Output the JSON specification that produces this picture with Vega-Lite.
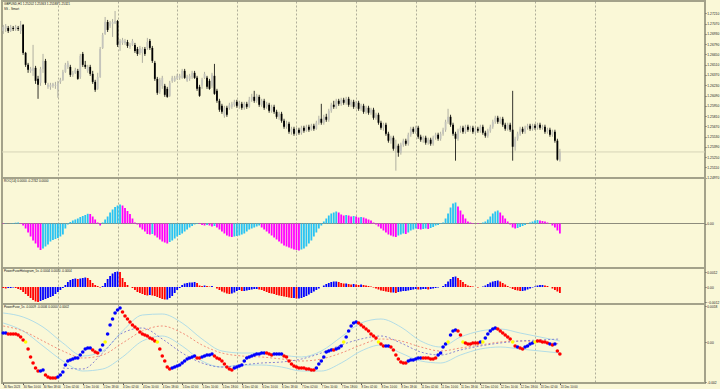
{
"$schema": "https://vega.github.io/schema/vega-lite/v6.json",
"padding": 0,
"background": "#faf8d7",
"spacing": 0,
"bounds": "flush",
"config": {
 "view": {"stroke": "#a3a28a", "strokeWidth": 2},
 "axis": {"domain": false, "title": null, "labelFont": "Liberation Sans", "labelFontSize": 3.3, "labelColor": "#222222", "tickColor": "#555555", "tickSize": 1, "labelPadding": 0.8, "labelOverlap": false, "labelBound": false, "labelFlush": false, "grid": false},
 "title": {"font": "Liberation Sans", "fontSize": 3.1, "fontWeight": "normal", "color": "#111111", "anchor": "start", "frame": "group", "subtitleFont": "Liberation Sans", "subtitleFontSize": 3.1, "subtitleColor": "#111111", "subtitlePadding": 1.2}
},
"datasets": {
"bars": [
{"i":0,"o":1.2697,"h":1.27052,"l":1.26929,"c":1.27024,"r":-0.003,"hv":-0.00008,"v":0.00045,"s":"b"},
{"i":1,"o":1.26997,"h":1.27065,"l":1.26956,"c":1.27038,"r":-0.002,"hv":-0.00012,"v":0.00045,"s":"b"},
{"i":2,"o":1.27011,"h":1.27038,"l":1.26943,"c":1.2697,"r":0,"hv":-0.00008,"v":0.0004,"s":"r"},
{"i":3,"o":1.2697,"h":1.27052,"l":1.26956,"c":1.27024,"r":0.003,"hv":-0.00008,"v":0.0004,"s":"r"},
{"i":4,"o":1.27011,"h":1.27038,"l":1.2697,"c":1.26997,"r":0.005,"hv":-0.00004,"v":0.0004,"s":"r"},
{"i":5,"o":1.26997,"h":1.27052,"l":1.2697,"c":1.27024,"r":0.008,"hv":-0.00008,"v":0.0004,"s":"r"},
{"i":6,"o":1.27011,"h":1.27038,"l":1.2697,"c":1.26997,"r":0.01,"hv":-0.00016,"v":0.00035,"s":"r"},
{"i":7,"o":1.2697,"h":1.27106,"l":1.26929,"c":1.27052,"r":0.005,"hv":-0.00024,"v":0.00025,"s":"r"},
{"i":8,"o":1.27052,"h":1.27065,"l":1.26644,"c":1.26671,"r":-0.02,"hv":-0.0004,"v":0.0001,"s":"r"},
{"i":9,"o":1.26671,"h":1.26684,"l":1.2648,"c":1.26508,"r":-0.05,"hv":-0.00056,"v":0,"s":"y"},
{"i":10,"o":1.26508,"h":1.26535,"l":1.26399,"c":1.2644,"r":-0.09,"hv":-0.00072,"v":-0.00035,"s":"r"},
{"i":11,"o":1.26426,"h":1.2648,"l":1.26399,"c":1.26453,"r":-0.13,"hv":-0.00088,"v":-0.00075,"s":"r"},
{"i":12,"o":1.26426,"h":1.2678,"l":1.26358,"c":1.26467,"r":-0.17,"hv":-0.00104,"v":-0.00105,"s":"r"},
{"i":13,"o":1.26467,"h":1.26494,"l":1.26249,"c":1.2629,"r":-0.2,"hv":-0.00116,"v":-0.0013,"s":"r"},
{"i":14,"o":1.26317,"h":1.26358,"l":1.26045,"c":1.26236,"r":-0.24,"hv":-0.0012,"v":-0.00145,"s":"r"},
{"i":15,"o":1.26263,"h":1.2648,"l":1.26222,"c":1.26453,"r":-0.265,"hv":-0.00112,"v":-0.00145,"s":"b"},
{"i":16,"o":1.26453,"h":1.26657,"l":1.26399,"c":1.26562,"r":-0.25,"hv":-0.00104,"v":-0.0014,"s":"b"},
{"i":17,"o":1.26562,"h":1.26589,"l":1.26236,"c":1.26263,"r":-0.23,"hv":-0.00096,"v":-0.00165,"s":"r"},
{"i":18,"o":1.26208,"h":1.26263,"l":1.26181,"c":1.26236,"r":-0.21,"hv":-0.00088,"v":-0.00175,"s":"r"},
{"i":19,"o":1.26208,"h":1.26263,"l":1.26168,"c":1.26236,"r":-0.18,"hv":-0.0008,"v":-0.0018,"s":"r"},
{"i":20,"o":1.26222,"h":1.26263,"l":1.26195,"c":1.26249,"r":-0.165,"hv":-0.00072,"v":-0.0018,"s":"r"},
{"i":21,"o":1.26222,"h":1.26276,"l":1.26181,"c":1.26236,"r":-0.155,"hv":-0.00056,"v":-0.0018,"s":"r"},
{"i":22,"o":1.26168,"h":1.2629,"l":1.26059,"c":1.26263,"r":-0.145,"hv":-0.0004,"v":-0.00175,"s":"b"},
{"i":23,"o":1.26276,"h":1.26331,"l":1.26249,"c":1.26304,"r":-0.13,"hv":-0.00024,"v":-0.00165,"s":"b"},
{"i":24,"o":1.26304,"h":1.2644,"l":1.2629,"c":1.26412,"r":-0.11,"hv":-0.00008,"v":-0.0015,"s":"b"},
{"i":25,"o":1.26412,"h":1.26535,"l":1.26399,"c":1.26508,"r":-0.05,"hv":0.00016,"v":-0.00115,"s":"b"},
{"i":26,"o":1.2648,"h":1.26562,"l":1.26453,"c":1.26535,"r":-0.01,"hv":0.0004,"v":-0.00095,"s":"b"},
{"i":27,"o":1.2648,"h":1.26508,"l":1.26344,"c":1.26372,"r":0.015,"hv":0.00056,"v":-0.0009,"s":"b"},
{"i":28,"o":1.26372,"h":1.26426,"l":1.26344,"c":1.26399,"r":0.03,"hv":0.00064,"v":-0.00085,"s":"b"},
{"i":29,"o":1.26399,"h":1.26467,"l":1.26385,"c":1.2644,"r":0.04,"hv":0.00068,"v":-0.0008,"s":"b"},
{"i":30,"o":1.26426,"h":1.26453,"l":1.26304,"c":1.26317,"r":0.05,"hv":0.00064,"v":-0.0008,"s":"b"},
{"i":31,"o":1.26344,"h":1.26657,"l":1.26317,"c":1.2663,"r":0.065,"hv":0.00068,"v":-0.00065,"s":"b"},
{"i":32,"o":1.26657,"h":1.26684,"l":1.2648,"c":1.26508,"r":0.075,"hv":0.00072,"v":-0.0005,"s":"b"},
{"i":33,"o":1.26508,"h":1.26562,"l":1.26453,"c":1.2648,"r":0.085,"hv":0.00076,"v":-0.00035,"s":"b"},
{"i":34,"o":1.26426,"h":1.26508,"l":1.26399,"c":1.2648,"r":0.097,"hv":0.00072,"v":-0.0003,"s":"b"},
{"i":35,"o":1.2648,"h":1.26508,"l":1.26358,"c":1.26385,"r":0.095,"hv":0.00056,"v":-0.0003,"s":"b"},
{"i":36,"o":1.26385,"h":1.26426,"l":1.26249,"c":1.26276,"r":0.07,"hv":0.00032,"v":-0.0004,"s":"r"},
{"i":37,"o":1.26276,"h":1.26304,"l":1.2614,"c":1.26168,"r":0.04,"hv":0.00016,"v":-0.0005,"s":"r"},
{"i":38,"o":1.26181,"h":1.26399,"l":1.26168,"c":1.26344,"r":0.01,"hv":0.00008,"v":-0.00055,"s":"r"},
{"i":39,"o":1.26344,"h":1.26752,"l":1.26331,"c":1.26725,"r":-0.02,"hv":-0.00004,"v":-0.0004,"s":"b"},
{"i":40,"o":1.26739,"h":1.26943,"l":1.26725,"c":1.26916,"r":0.01,"hv":0.00008,"v":-0.00015,"s":"b"},
{"i":41,"o":1.26929,"h":1.2716,"l":1.26916,"c":1.27092,"r":0.04,"hv":0.00032,"v":0,"s":"y"},
{"i":42,"o":1.27092,"h":1.2712,"l":1.26956,"c":1.26984,"r":0.07,"hv":0.00064,"v":0.0004,"s":"b"},
{"i":43,"o":1.27038,"h":1.27106,"l":1.27011,"c":1.27079,"r":0.11,"hv":0.00088,"v":0.00085,"s":"b"},
{"i":44,"o":1.27065,"h":1.27133,"l":1.26888,"c":1.27092,"r":0.14,"hv":0.00108,"v":0.00115,"s":"b"},
{"i":45,"o":1.27079,"h":1.27242,"l":1.27065,"c":1.27106,"r":0.165,"hv":0.0012,"v":0.00145,"s":"b"},
{"i":46,"o":1.27106,"h":1.2712,"l":1.26752,"c":1.2678,"r":0.18,"hv":0.00124,"v":0.0016,"s":"b"},
{"i":47,"o":1.2678,"h":1.26861,"l":1.26698,"c":1.26834,"r":0.19,"hv":0.0012,"v":0.0017,"s":"b"},
{"i":48,"o":1.26807,"h":1.26875,"l":1.2678,"c":1.26848,"r":0.18,"hv":0.00072,"v":0.0015,"s":"r"},
{"i":49,"o":1.26807,"h":1.26861,"l":1.2678,"c":1.26834,"r":0.155,"hv":0.0004,"v":0.0013,"s":"r"},
{"i":50,"o":1.2682,"h":1.26848,"l":1.26739,"c":1.26766,"r":0.125,"hv":0.00016,"v":0.00115,"s":"r"},
{"i":51,"o":1.26752,"h":1.26807,"l":1.26725,"c":1.2678,"r":0.095,"hv":0,"v":0.001,"s":"r"},
{"i":52,"o":1.2678,"h":1.26861,"l":1.26766,"c":1.26834,"r":0.05,"hv":-0.00008,"v":0.00085,"s":"r"},
{"i":53,"o":1.2678,"h":1.26807,"l":1.26671,"c":1.26698,"r":0.01,"hv":-0.00024,"v":0.00075,"s":"r"},
{"i":54,"o":1.26725,"h":1.26752,"l":1.2663,"c":1.26657,"r":-0.01,"hv":-0.0004,"v":0.00065,"s":"r"},
{"i":55,"o":1.26671,"h":1.26766,"l":1.26644,"c":1.26739,"r":-0.04,"hv":-0.00048,"v":0.0005,"s":"r"},
{"i":56,"o":1.26671,"h":1.26752,"l":1.26535,"c":1.26725,"r":-0.06,"hv":-0.00056,"v":0.0004,"s":"r"},
{"i":57,"o":1.26725,"h":1.26752,"l":1.2663,"c":1.26657,"r":-0.08,"hv":-0.00064,"v":0.00035,"s":"r"},
{"i":58,"o":1.26739,"h":1.26875,"l":1.26712,"c":1.2682,"r":-0.105,"hv":-0.00068,"v":0.0003,"s":"r"},
{"i":59,"o":1.26834,"h":1.26861,"l":1.26712,"c":1.26739,"r":-0.11,"hv":-0.00064,"v":0.0002,"s":"r"},
{"i":60,"o":1.26739,"h":1.26766,"l":1.26535,"c":1.26562,"r":-0.105,"hv":-0.00068,"v":0.00015,"s":"r"},
{"i":61,"o":1.26535,"h":1.26562,"l":1.2629,"c":1.26317,"r":-0.12,"hv":-0.00072,"v":0.00005,"s":"r"},
{"i":62,"o":1.26317,"h":1.26344,"l":1.261,"c":1.26127,"r":-0.14,"hv":-0.0008,"v":0,"s":"y"},
{"i":63,"o":1.2614,"h":1.26331,"l":1.26113,"c":1.26304,"r":-0.16,"hv":-0.00088,"v":-0.00035,"s":"r"},
{"i":64,"o":1.26222,"h":1.26358,"l":1.26181,"c":1.26331,"r":-0.18,"hv":-0.00096,"v":-0.0007,"s":"r"},
{"i":65,"o":1.26222,"h":1.26249,"l":1.26072,"c":1.261,"r":-0.19,"hv":-0.001,"v":-0.00095,"s":"r"},
{"i":66,"o":1.26181,"h":1.26208,"l":1.26059,"c":1.26072,"r":-0.2,"hv":-0.001,"v":-0.00125,"s":"r"},
{"i":67,"o":1.26086,"h":1.2629,"l":1.26072,"c":1.26263,"r":-0.185,"hv":-0.00088,"v":-0.00135,"s":"r"},
{"i":68,"o":1.2629,"h":1.26358,"l":1.26263,"c":1.26331,"r":-0.17,"hv":-0.00072,"v":-0.0013,"s":"b"},
{"i":69,"o":1.2629,"h":1.26358,"l":1.26276,"c":1.26331,"r":-0.15,"hv":-0.00048,"v":-0.00125,"s":"b"},
{"i":70,"o":1.26317,"h":1.26385,"l":1.26304,"c":1.26358,"r":-0.13,"hv":-0.00024,"v":-0.0012,"s":"b"},
{"i":71,"o":1.26331,"h":1.26385,"l":1.26304,"c":1.26358,"r":-0.115,"hv":-0.00008,"v":-0.00115,"s":"b"},
{"i":72,"o":1.26331,"h":1.26453,"l":1.26317,"c":1.26426,"r":-0.1,"hv":0.00016,"v":-0.00105,"s":"b"},
{"i":73,"o":1.26426,"h":1.26453,"l":1.26317,"c":1.26331,"r":-0.08,"hv":0.00028,"v":-0.00095,"s":"b"},
{"i":74,"o":1.2629,"h":1.26372,"l":1.26276,"c":1.26344,"r":-0.06,"hv":0.00032,"v":-0.00085,"s":"b"},
{"i":75,"o":1.26317,"h":1.26385,"l":1.2629,"c":1.26358,"r":-0.04,"hv":0.00036,"v":-0.0008,"s":"b"},
{"i":76,"o":1.26344,"h":1.26426,"l":1.26317,"c":1.26399,"r":-0.025,"hv":0.00036,"v":-0.00075,"s":"b"},
{"i":77,"o":1.26399,"h":1.26426,"l":1.26317,"c":1.26331,"r":-0.01,"hv":0.0004,"v":-0.0007,"s":"b"},
{"i":78,"o":1.26331,"h":1.26358,"l":1.26154,"c":1.26181,"r":0.005,"hv":0.00032,"v":-0.0008,"s":"r"},
{"i":79,"o":1.26208,"h":1.26236,"l":1.26072,"c":1.26086,"r":-0.005,"hv":0.00012,"v":-0.0008,"s":"r"},
{"i":80,"o":1.26222,"h":1.26331,"l":1.26181,"c":1.26304,"r":-0.015,"hv":0.00008,"v":-0.00075,"s":"b"},
{"i":81,"o":1.26331,"h":1.26412,"l":1.26317,"c":1.26385,"r":-0.02,"hv":0.00012,"v":-0.0007,"s":"b"},
{"i":82,"o":1.26331,"h":1.26358,"l":1.26181,"c":1.26208,"r":-0.015,"hv":0.00008,"v":-0.00065,"s":"b"},
{"i":83,"o":1.2629,"h":1.26317,"l":1.26168,"c":1.26181,"r":-0.02,"hv":0.00004,"v":-0.00065,"s":"b"},
{"i":84,"o":1.26222,"h":1.26399,"l":1.26195,"c":1.26372,"r":-0.03,"hv":0.00008,"v":-0.0006,"s":"b"},
{"i":85,"o":1.26358,"h":1.26521,"l":1.261,"c":1.26113,"r":-0.025,"hv":0,"v":-0.0007,"s":"r"},
{"i":86,"o":1.26154,"h":1.26181,"l":1.25991,"c":1.26018,"r":-0.04,"hv":-0.00012,"v":-0.0008,"s":"r"},
{"i":87,"o":1.26018,"h":1.26045,"l":1.25868,"c":1.25896,"r":-0.06,"hv":-0.00024,"v":-0.00085,"s":"r"},
{"i":88,"o":1.2595,"h":1.25977,"l":1.25841,"c":1.25868,"r":-0.08,"hv":-0.00036,"v":-0.00095,"s":"r"},
{"i":89,"o":1.25814,"h":1.2595,"l":1.25787,"c":1.25923,"r":-0.1,"hv":-0.00044,"v":-0.0011,"s":"r"},
{"i":90,"o":1.25923,"h":1.2595,"l":1.258,"c":1.25828,"r":-0.12,"hv":-0.00052,"v":-0.00125,"s":"r"},
{"i":91,"o":1.25923,"h":1.25991,"l":1.25896,"c":1.25964,"r":-0.13,"hv":-0.00056,"v":-0.00135,"s":"r"},
{"i":92,"o":1.25936,"h":1.26004,"l":1.25909,"c":1.25977,"r":-0.135,"hv":-0.00052,"v":-0.0014,"s":"r"},
{"i":93,"o":1.25964,"h":1.26032,"l":1.25936,"c":1.26004,"r":-0.13,"hv":-0.00044,"v":-0.0013,"s":"b"},
{"i":94,"o":1.26004,"h":1.26032,"l":1.25923,"c":1.2595,"r":-0.125,"hv":-0.00032,"v":-0.00125,"s":"b"},
{"i":95,"o":1.2595,"h":1.26018,"l":1.25909,"c":1.25991,"r":-0.12,"hv":-0.00024,"v":-0.0012,"s":"b"},
{"i":96,"o":1.25977,"h":1.26004,"l":1.25896,"c":1.25923,"r":-0.11,"hv":-0.00032,"v":-0.00115,"s":"b"},
{"i":97,"o":1.25923,"h":1.26004,"l":1.25896,"c":1.25977,"r":-0.1,"hv":-0.00032,"v":-0.00095,"s":"b"},
{"i":98,"o":1.25977,"h":1.26004,"l":1.25909,"c":1.25936,"r":-0.08,"hv":-0.00028,"v":-0.0008,"s":"b"},
{"i":99,"o":1.25936,"h":1.26072,"l":1.25923,"c":1.26032,"r":-0.06,"hv":-0.00024,"v":-0.00075,"s":"b"},
{"i":100,"o":1.26032,"h":1.26113,"l":1.26004,"c":1.26072,"r":-0.05,"hv":-0.0002,"v":-0.0007,"s":"b"},
{"i":101,"o":1.26072,"h":1.26154,"l":1.25991,"c":1.26018,"r":-0.04,"hv":-0.00016,"v":-0.00065,"s":"b"},
{"i":102,"o":1.26018,"h":1.26113,"l":1.25991,"c":1.26086,"r":-0.03,"hv":-0.00016,"v":-0.0006,"s":"b"},
{"i":103,"o":1.26072,"h":1.261,"l":1.25936,"c":1.25964,"r":-0.02,"hv":-0.0002,"v":-0.0006,"s":"b"},
{"i":104,"o":1.25964,"h":1.26045,"l":1.25936,"c":1.26018,"r":-0.04,"hv":-0.00024,"v":-0.00055,"s":"b"},
{"i":105,"o":1.26018,"h":1.26045,"l":1.25896,"c":1.25923,"r":-0.06,"hv":-0.00032,"v":-0.00055,"s":"b"},
{"i":106,"o":1.25936,"h":1.26004,"l":1.25909,"c":1.25977,"r":-0.08,"hv":-0.0004,"v":-0.00055,"s":"r"},
{"i":107,"o":1.25964,"h":1.25991,"l":1.25855,"c":1.25882,"r":-0.1,"hv":-0.00048,"v":-0.0006,"s":"r"},
{"i":108,"o":1.25882,"h":1.25964,"l":1.25855,"c":1.25936,"r":-0.12,"hv":-0.00052,"v":-0.00065,"s":"r"},
{"i":109,"o":1.25936,"h":1.25964,"l":1.25841,"c":1.25868,"r":-0.14,"hv":-0.00056,"v":-0.0006,"s":"b"},
{"i":110,"o":1.25868,"h":1.25896,"l":1.25773,"c":1.258,"r":-0.16,"hv":-0.00064,"v":-0.0006,"s":"b"},
{"i":111,"o":1.258,"h":1.25868,"l":1.2576,"c":1.25841,"r":-0.18,"hv":-0.00068,"v":-0.0006,"s":"b"},
{"i":112,"o":1.25841,"h":1.25868,"l":1.25719,"c":1.25746,"r":-0.2,"hv":-0.00072,"v":-0.0006,"s":"b"},
{"i":113,"o":1.25746,"h":1.25773,"l":1.25637,"c":1.25664,"r":-0.22,"hv":-0.00076,"v":-0.0007,"s":"r"},
{"i":114,"o":1.25664,"h":1.25746,"l":1.25637,"c":1.25705,"r":-0.23,"hv":-0.0008,"v":-0.00075,"s":"r"},
{"i":115,"o":1.25705,"h":1.25732,"l":1.25569,"c":1.25596,"r":-0.24,"hv":-0.00084,"v":-0.00095,"s":"r"},
{"i":116,"o":1.25596,"h":1.25664,"l":1.25556,"c":1.25637,"r":-0.25,"hv":-0.00088,"v":-0.0011,"s":"r"},
{"i":117,"o":1.25637,"h":1.25664,"l":1.25542,"c":1.25569,"r":-0.26,"hv":-0.00088,"v":-0.0012,"s":"r"},
{"i":118,"o":1.25569,"h":1.25651,"l":1.25542,"c":1.25624,"r":-0.265,"hv":-0.00092,"v":-0.00125,"s":"r"},
{"i":119,"o":1.25624,"h":1.25651,"l":1.25556,"c":1.25583,"r":-0.27,"hv":-0.00092,"v":-0.0013,"s":"r"},
{"i":120,"o":1.25583,"h":1.25678,"l":1.25556,"c":1.25651,"r":-0.26,"hv":-0.00088,"v":-0.0013,"s":"r"},
{"i":121,"o":1.25651,"h":1.25678,"l":1.25583,"c":1.2561,"r":-0.25,"hv":-0.0008,"v":-0.0013,"s":"r"},
{"i":122,"o":1.2561,"h":1.25692,"l":1.25596,"c":1.25664,"r":-0.23,"hv":-0.00072,"v":-0.00135,"s":"r"},
{"i":123,"o":1.25664,"h":1.25692,"l":1.25596,"c":1.25624,"r":-0.2,"hv":-0.0006,"v":-0.00135,"s":"r"},
{"i":124,"o":1.25624,"h":1.25705,"l":1.2561,"c":1.25678,"r":-0.17,"hv":-0.00048,"v":-0.0014,"s":"r"},
{"i":125,"o":1.25678,"h":1.25705,"l":1.2561,"c":1.25637,"r":-0.13,"hv":-0.00036,"v":-0.0014,"s":"r"},
{"i":126,"o":1.25637,"h":1.25746,"l":1.25624,"c":1.25719,"r":-0.09,"hv":-0.00024,"v":-0.0013,"s":"b"},
{"i":127,"o":1.25719,"h":1.25814,"l":1.25692,"c":1.25773,"r":-0.05,"hv":-0.00012,"v":-0.0011,"s":"b"},
{"i":128,"o":1.25773,"h":1.25977,"l":1.25692,"c":1.25719,"r":-0.02,"hv":0,"v":-0.00095,"s":"b"},
{"i":129,"o":1.25719,"h":1.25828,"l":1.25692,"c":1.258,"r":0.02,"hv":0.00012,"v":-0.00075,"s":"b"},
{"i":130,"o":1.258,"h":1.25841,"l":1.25732,"c":1.2576,"r":0.05,"hv":0.00024,"v":-0.0005,"s":"b"},
{"i":131,"o":1.2576,"h":1.25909,"l":1.25732,"c":1.25882,"r":0.08,"hv":0.00032,"v":-0.00045,"s":"b"},
{"i":132,"o":1.25882,"h":1.25991,"l":1.25855,"c":1.25964,"r":0.1,"hv":0.0004,"v":-0.0004,"s":"b"},
{"i":133,"o":1.25964,"h":1.26018,"l":1.25909,"c":1.25936,"r":0.11,"hv":0.00044,"v":-0.0004,"s":"r"},
{"i":134,"o":1.25936,"h":1.26045,"l":1.25909,"c":1.26018,"r":0.12,"hv":0.00044,"v":-0.00035,"s":"b"},
{"i":135,"o":1.26018,"h":1.26045,"l":1.2595,"c":1.25977,"r":0.11,"hv":0.0004,"v":-0.0003,"s":"b"},
{"i":136,"o":1.25977,"h":1.26059,"l":1.2595,"c":1.26032,"r":0.09,"hv":0.00032,"v":-0.0002,"s":"b"},
{"i":137,"o":1.26032,"h":1.26059,"l":1.25964,"c":1.25991,"r":0.08,"hv":0.00028,"v":0,"s":"y"},
{"i":138,"o":1.25991,"h":1.26072,"l":1.25964,"c":1.26045,"r":0.085,"hv":0.00028,"v":0.00025,"s":"b"},
{"i":139,"o":1.26045,"h":1.26072,"l":1.25936,"c":1.25964,"r":0.08,"hv":0.00024,"v":0.00055,"s":"b"},
{"i":140,"o":1.25964,"h":1.26032,"l":1.25936,"c":1.26004,"r":0.07,"hv":0.0002,"v":0.0008,"s":"b"},
{"i":141,"o":1.26004,"h":1.26032,"l":1.25909,"c":1.25936,"r":0.075,"hv":0.00024,"v":0.00095,"s":"b"},
{"i":142,"o":1.25936,"h":1.26018,"l":1.25909,"c":1.25991,"r":0.07,"hv":0.0002,"v":0.001,"s":"b"},
{"i":143,"o":1.25991,"h":1.26018,"l":1.25882,"c":1.25909,"r":0.06,"hv":0.00016,"v":0.00095,"s":"r"},
{"i":144,"o":1.25909,"h":1.25977,"l":1.25882,"c":1.2595,"r":0.065,"hv":0.0002,"v":0.00085,"s":"r"},
{"i":145,"o":1.2595,"h":1.25977,"l":1.25841,"c":1.25868,"r":0.06,"hv":0.00016,"v":0.00075,"s":"r"},
{"i":146,"o":1.25868,"h":1.2595,"l":1.25841,"c":1.25923,"r":0.05,"hv":0.00012,"v":0.00065,"s":"r"},
{"i":147,"o":1.25923,"h":1.2595,"l":1.25828,"c":1.25855,"r":0.04,"hv":0.00008,"v":0.00055,"s":"r"},
{"i":148,"o":1.25855,"h":1.25923,"l":1.25828,"c":1.25896,"r":0.03,"hv":0.00004,"v":0.0004,"s":"r"},
{"i":149,"o":1.25896,"h":1.25923,"l":1.2576,"c":1.25787,"r":0.01,"hv":-0.00004,"v":0.0003,"s":"r"},
{"i":150,"o":1.25787,"h":1.25855,"l":1.2576,"c":1.25828,"r":-0.01,"hv":-0.00012,"v":0.0002,"s":"r"},
{"i":151,"o":1.25828,"h":1.25855,"l":1.25692,"c":1.25719,"r":-0.03,"hv":-0.0002,"v":0,"s":"y"},
{"i":152,"o":1.25719,"h":1.25746,"l":1.25624,"c":1.25651,"r":-0.05,"hv":-0.00028,"v":-0.0001,"s":"r"},
{"i":153,"o":1.25651,"h":1.25719,"l":1.2561,"c":1.25692,"r":-0.07,"hv":-0.00032,"v":-0.0002,"s":"r"},
{"i":154,"o":1.25692,"h":1.25719,"l":1.25542,"c":1.25569,"r":-0.09,"hv":-0.00036,"v":-0.0002,"s":"b"},
{"i":155,"o":1.25569,"h":1.25596,"l":1.25447,"c":1.25474,"r":-0.11,"hv":-0.0004,"v":-0.0002,"s":"b"},
{"i":156,"o":1.25474,"h":1.25542,"l":1.25433,"c":1.25515,"r":-0.12,"hv":-0.00044,"v":-0.00025,"s":"r"},
{"i":157,"o":1.25515,"h":1.25542,"l":1.25338,"c":1.25365,"r":-0.13,"hv":-0.00044,"v":-0.0004,"s":"r"},
{"i":158,"o":1.25365,"h":1.25488,"l":1.25066,"c":1.25406,"r":-0.135,"hv":-0.00048,"v":-0.00065,"s":"r"},
{"i":159,"o":1.25406,"h":1.25433,"l":1.25256,"c":1.25311,"r":-0.12,"hv":-0.0004,"v":-0.00085,"s":"r"},
{"i":160,"o":1.25311,"h":1.25447,"l":1.25284,"c":1.2542,"r":-0.11,"hv":-0.00036,"v":-0.001,"s":"r"},
{"i":161,"o":1.2542,"h":1.25501,"l":1.25392,"c":1.25474,"r":-0.1,"hv":-0.00032,"v":-0.00105,"s":"r"},
{"i":162,"o":1.25474,"h":1.25501,"l":1.25406,"c":1.25433,"r":-0.105,"hv":-0.00032,"v":-0.00105,"s":"r"},
{"i":163,"o":1.25433,"h":1.25583,"l":1.25406,"c":1.25556,"r":-0.09,"hv":-0.00028,"v":-0.00095,"s":"b"},
{"i":164,"o":1.25556,"h":1.25664,"l":1.25528,"c":1.25637,"r":-0.07,"hv":-0.00024,"v":-0.0009,"s":"b"},
{"i":165,"o":1.25637,"h":1.25664,"l":1.25569,"c":1.25596,"r":-0.06,"hv":-0.0002,"v":-0.0009,"s":"b"},
{"i":166,"o":1.25596,"h":1.25678,"l":1.25569,"c":1.25651,"r":-0.05,"hv":-0.00016,"v":-0.00085,"s":"b"},
{"i":167,"o":1.25651,"h":1.25678,"l":1.25501,"c":1.25528,"r":-0.055,"hv":-0.0002,"v":-0.0008,"s":"b"},
{"i":168,"o":1.25528,"h":1.25556,"l":1.2546,"c":1.25488,"r":-0.06,"hv":-0.0002,"v":-0.0008,"s":"b"},
{"i":169,"o":1.25488,"h":1.25542,"l":1.25447,"c":1.25515,"r":-0.055,"hv":-0.00016,"v":-0.0008,"s":"r"},
{"i":170,"o":1.25515,"h":1.25542,"l":1.2542,"c":1.25447,"r":-0.05,"hv":-0.00016,"v":-0.0008,"s":"r"},
{"i":171,"o":1.25447,"h":1.25515,"l":1.2542,"c":1.25488,"r":-0.055,"hv":-0.0002,"v":-0.0008,"s":"r"},
{"i":172,"o":1.25488,"h":1.25515,"l":1.25406,"c":1.25433,"r":-0.045,"hv":-0.00016,"v":-0.00085,"s":"r"},
{"i":173,"o":1.25433,"h":1.25542,"l":1.25406,"c":1.25515,"r":-0.035,"hv":-0.00012,"v":-0.00085,"s":"r"},
{"i":174,"o":1.25515,"h":1.25583,"l":1.25488,"c":1.25556,"r":-0.02,"hv":-0.00008,"v":-0.0008,"s":"r"},
{"i":175,"o":1.25556,"h":1.25583,"l":1.25474,"c":1.25501,"r":-0.015,"hv":-0.00004,"v":-0.00065,"s":"b"},
{"i":176,"o":1.25501,"h":1.25596,"l":1.25474,"c":1.25569,"r":-0.005,"hv":0,"v":-0.00055,"s":"b"},
{"i":177,"o":1.25569,"h":1.25651,"l":1.25542,"c":1.25624,"r":0.01,"hv":0.00008,"v":-0.00025,"s":"b"},
{"i":178,"o":1.25624,"h":1.2576,"l":1.25596,"c":1.25732,"r":0.05,"hv":0.00024,"v":-0.0001,"s":"b"},
{"i":179,"o":1.25732,"h":1.25909,"l":1.25705,"c":1.258,"r":0.1,"hv":0.00044,"v":0,"s":"y"},
{"i":180,"o":1.258,"h":1.25828,"l":1.25664,"c":1.25692,"r":0.16,"hv":0.00064,"v":0.00035,"s":"b"},
{"i":181,"o":1.25692,"h":1.25719,"l":1.25542,"c":1.25569,"r":0.2,"hv":0.0008,"v":0.00055,"s":"b"},
{"i":182,"o":1.25569,"h":1.25596,"l":1.25202,"c":1.25501,"r":0.21,"hv":0.00084,"v":0.0006,"s":"b"},
{"i":183,"o":1.25501,"h":1.25637,"l":1.25474,"c":1.2561,"r":0.17,"hv":0.00072,"v":0.00055,"s":"r"},
{"i":184,"o":1.2561,"h":1.25678,"l":1.25583,"c":1.25651,"r":0.13,"hv":0.00056,"v":0.00035,"s":"r"},
{"i":185,"o":1.25651,"h":1.25678,"l":1.25569,"c":1.25596,"r":0.09,"hv":0.0004,"v":0,"s":"y"},
{"i":186,"o":1.25596,"h":1.25692,"l":1.25569,"c":1.25664,"r":0.05,"hv":0.00024,"v":-0.00005,"s":"r"},
{"i":187,"o":1.25664,"h":1.25692,"l":1.25596,"c":1.25624,"r":0.02,"hv":0.00012,"v":-0.0001,"s":"r"},
{"i":188,"o":1.25624,"h":1.25678,"l":1.25596,"c":1.25651,"r":0.01,"hv":0.00008,"v":-0.0001,"s":"r"},
{"i":189,"o":1.25651,"h":1.25678,"l":1.25569,"c":1.25596,"r":0.005,"hv":0.00004,"v":-0.00005,"s":"r"},
{"i":190,"o":1.25596,"h":1.25664,"l":1.25569,"c":1.25637,"r":0,"hv":0,"v":-0.00005,"s":"r"},
{"i":191,"o":1.25637,"h":1.25664,"l":1.25583,"c":1.2561,"r":-0.005,"hv":-0.00004,"v":-0.00005,"s":"r"},
{"i":192,"o":1.2561,"h":1.25692,"l":1.25583,"c":1.25664,"r":0,"hv":0,"v":0,"s":"b"},
{"i":193,"o":1.25664,"h":1.25692,"l":1.25556,"c":1.25583,"r":0.01,"hv":0.00004,"v":0,"s":"y"},
{"i":194,"o":1.25583,"h":1.2561,"l":1.25515,"c":1.25542,"r":0.02,"hv":0.00012,"v":0.0002,"s":"b"},
{"i":195,"o":1.25542,"h":1.25637,"l":1.25515,"c":1.2561,"r":0.04,"hv":0.00024,"v":0.0004,"s":"b"},
{"i":196,"o":1.2561,"h":1.25692,"l":1.25583,"c":1.25664,"r":0.07,"hv":0.00036,"v":0.00055,"s":"b"},
{"i":197,"o":1.25664,"h":1.2576,"l":1.25637,"c":1.25732,"r":0.1,"hv":0.00044,"v":0.00065,"s":"b"},
{"i":198,"o":1.25732,"h":1.25814,"l":1.25705,"c":1.25787,"r":0.12,"hv":0.00048,"v":0.0007,"s":"b"},
{"i":199,"o":1.25787,"h":1.25814,"l":1.25705,"c":1.25732,"r":0.13,"hv":0.00052,"v":0.00065,"s":"r"},
{"i":200,"o":1.25732,"h":1.258,"l":1.25705,"c":1.25773,"r":0.11,"hv":0.00044,"v":0.00055,"s":"r"},
{"i":201,"o":1.25773,"h":1.258,"l":1.25664,"c":1.25692,"r":0.08,"hv":0.00032,"v":0.00045,"s":"r"},
{"i":202,"o":1.25692,"h":1.25719,"l":1.2561,"c":1.25637,"r":0.05,"hv":0.0002,"v":0.00035,"s":"r"},
{"i":203,"o":1.25637,"h":1.25719,"l":1.2561,"c":1.25692,"r":0.02,"hv":0.00008,"v":0.00025,"s":"r"},
{"i":204,"o":1.25692,"h":1.25719,"l":1.25596,"c":1.25624,"r":-0.01,"hv":-0.00004,"v":0.00015,"s":"r"},
{"i":205,"o":1.25624,"h":1.26154,"l":1.25202,"c":1.25392,"r":-0.04,"hv":-0.00016,"v":0,"s":"y"},
{"i":206,"o":1.25392,"h":1.25528,"l":1.25338,"c":1.25501,"r":-0.05,"hv":-0.00024,"v":-0.0002,"s":"r"},
{"i":207,"o":1.25501,"h":1.25596,"l":1.25474,"c":1.25569,"r":-0.045,"hv":-0.00028,"v":-0.00025,"s":"b"},
{"i":208,"o":1.25569,"h":1.25664,"l":1.25542,"c":1.25637,"r":-0.035,"hv":-0.00032,"v":-0.0003,"s":"r"},
{"i":209,"o":1.25637,"h":1.25664,"l":1.25569,"c":1.25596,"r":-0.025,"hv":-0.00032,"v":-0.00035,"s":"r"},
{"i":210,"o":1.25596,"h":1.25678,"l":1.25569,"c":1.25651,"r":-0.015,"hv":-0.00028,"v":-0.00025,"s":"b"},
{"i":211,"o":1.25651,"h":1.25705,"l":1.25624,"c":1.25678,"r":0,"hv":-0.0002,"v":-0.0002,"s":"b"},
{"i":212,"o":1.25678,"h":1.25705,"l":1.2561,"c":1.25637,"r":0.01,"hv":-0.00012,"v":-0.0001,"s":"b"},
{"i":213,"o":1.25637,"h":1.25705,"l":1.2561,"c":1.25678,"r":0.02,"hv":-0.00004,"v":-0.00005,"s":"b"},
{"i":214,"o":1.25678,"h":1.25705,"l":1.25624,"c":1.25651,"r":0.03,"hv":0.00004,"v":0,"s":"y"},
{"i":215,"o":1.25651,"h":1.25719,"l":1.25624,"c":1.25692,"r":0.035,"hv":0.00012,"v":0.00005,"s":"r"},
{"i":216,"o":1.25692,"h":1.25719,"l":1.25624,"c":1.25651,"r":0.03,"hv":0.00016,"v":0.00005,"s":"r"},
{"i":217,"o":1.25651,"h":1.25692,"l":1.25624,"c":1.25664,"r":0.025,"hv":0.00016,"v":0,"s":"r"},
{"i":218,"o":1.25664,"h":1.25692,"l":1.25569,"c":1.25596,"r":0.02,"hv":0.00012,"v":0,"s":"r"},
{"i":219,"o":1.25596,"h":1.25651,"l":1.25569,"c":1.25624,"r":0.01,"hv":0.00008,"v":-0.00005,"s":"r"},
{"i":220,"o":1.25624,"h":1.25651,"l":1.25528,"c":1.25556,"r":0,"hv":0,"v":-0.0001,"s":"b"},
{"i":221,"o":1.25556,"h":1.25624,"l":1.25528,"c":1.25596,"r":-0.02,"hv":-0.00012,"v":-0.00015,"s":"r"},
{"i":222,"o":1.25596,"h":1.25624,"l":1.25447,"c":1.25474,"r":-0.04,"hv":-0.00024,"v":-0.0001,"s":"b"},
{"i":223,"o":1.25474,"h":1.25501,"l":1.25202,"c":1.25216,"r":-0.07,"hv":-0.00036,"v":-0.00045,"s":"r"},
{"i":224,"o":1.25202,"h":1.25363,"l":1.25188,"c":1.25321,"r":-0.1,"hv":-0.00048,"v":-0.0006,"s":"r"}
],
"lines": [
{"i":0,"ua":0.00145,"lb":0.00095,"rd":0.0008},
{"i":8,"ua":0.00125,"lb":0.00055,"rd":0.00055},
{"i":16,"ua":0.00075,"lb":-0.0002,"rd":0.00005},
{"i":24,"ua":-0.00005,"lb":-0.00095,"rd":-0.00045,"pd":-0.0013},
{"i":32,"ua":-0.0007,"lb":-0.00145,"rd":-0.0008,"pd":-0.00135},
{"i":40,"ua":-0.00045,"lb":-0.00135,"rd":-0.00065,"pd":-0.00055},
{"i":48,"ua":0.00055,"lb":-0.00075,"rd":-0.00005,"pd":0.00045},
{"i":56,"ua":0.00135,"lb":0.00005,"rd":0.00055,"pd":0.0007},
{"i":64,"ua":0.0014,"lb":0.0003,"rd":0.0008,"pd":0.00015},
{"i":72,"ua":0.00095,"lb":-0.0002,"rd":0.00045,"pd":-0.00055},
{"i":80,"ua":0.00015,"lb":-0.00095,"rd":-0.00015,"pd":-0.00105},
{"i":88,"ua":-0.00045,"lb":-0.00125,"rd":-0.00055,"pd":-0.00125},
{"i":96,"ua":-0.00055,"lb":-0.00115,"rd":-0.0007,"pd":-0.00115},
{"i":104,"ua":-0.00055,"lb":-0.00115,"rd":-0.00075,"pd":-0.00105},
{"i":112,"ua":-0.00065,"lb":-0.00125,"rd":-0.00085,"pd":-0.001},
{"i":120,"ua":-0.00075,"lb":-0.00145,"rd":-0.00095,"pd":-0.00085},
{"i":128,"ua":-0.00045,"lb":-0.00145,"rd":-0.00085,"pd":-0.00055},
{"i":136,"ua":0.00025,"lb":-0.00105,"rd":-0.00055,"pd":-0.00015},
{"i":144,"ua":0.00095,"lb":-0.00045,"rd":-0.00015,"pd":0.00015},
{"i":152,"ua":0.00115,"lb":-0.00015,"rd":0.00015,"pd":0.0003},
{"i":160,"ua":0.00075,"lb":-0.00055,"rd":0.00005,"pd":-0.00005},
{"i":168,"ua":0.00005,"lb":-0.00095,"rd":-0.00025,"pd":-0.0005},
{"i":176,"ua":-0.00025,"lb":-0.00105,"rd":-0.00045,"pd":-0.00065},
{"i":184,"ua":0.00025,"lb":-0.00065,"rd":-0.0003,"pd":-0.0004},
{"i":192,"ua":0.00055,"lb":-0.00035,"rd":-0.00015,"pd":-0.0002},
{"i":200,"ua":0.00065,"lb":-0.00025,"rd":0,"pd":-0.00005},
{"i":208,"ua":0.00045,"lb":-0.00035,"rd":0.00005,"pd":0.00005},
{"i":216,"ua":0.00025,"lb":-0.00045,"rd":0,"pd":0.0001},
{"i":224,"ua":0.00005,"lb":-0.00055,"rd":-0.0001,"pd":0.00015}
]
},
"vconcat": [
{
 "width": 703, "height": 177,
 "title": {"text": "GBPUSD,H1  1.25202 1.25363 1.25188 1.25321", "subtitle": "SS - Smart", "offset": -9.5, "dx": 2},
 "layer": [
  {"data": {"values": [{"p": 1.25321}]}, "mark": {"type": "rule", "color": "#d6d4b8", "strokeWidth": 1},
   "encoding": {"y": {"field": "p", "type": "quantitative", "scale": {"domain": [1.24966, 1.27378], "nice": false, "zero": false}, "axis": {"orient": "right", "values": [1.2721,1.2707,1.2693,1.2679,1.2665,1.2651,1.2637,1.2623,1.2609,1.2595,1.2581,1.2567,1.2553,1.2539,1.2525,1.2511,1.2497], "format": ".5f"}}}},
  {"data": {"name": "bars"}, "mark": {"type": "rule", "strokeWidth": 0.8},
   "encoding": {
    "x": {"field": "i", "type": "quantitative", "scale": {"domain": [-0.5, 282.4], "nice": false, "zero": false, "padding": 0}, "axis": {"values": [22,46,70,94,118,142,166,190,214,238], "labels": false, "ticks": false, "grid": true, "gridDash": [2,2], "gridColor": "#8e8e7e", "gridWidth": 0.7}},
    "y": {"field": "l", "type": "quantitative", "scale": {"domain": [1.24966, 1.27378], "nice": false, "zero": false}, "axis": {"orient": "right", "values": [1.2721,1.2707,1.2693,1.2679,1.2665,1.2651,1.2637,1.2623,1.2609,1.2595,1.2581,1.2567,1.2553,1.2539,1.2525,1.2511,1.2497], "format": ".5f"}},
    "y2": {"field": "h"},
    "color": {"condition": {"test": "datum.c >= datum.o", "value": "#9c9c94"}, "value": "#000000"}
   }},
  {"data": {"name": "bars"}, "mark": {"type": "bar", "size": 1.8},
   "encoding": {
    "x": {"field": "i", "type": "quantitative", "scale": {"domain": [-0.5, 282.4], "nice": false, "zero": false, "padding": 0}, "axis": {"values": [22,46,70,94,118,142,166,190,214,238], "labels": false, "ticks": false, "grid": true, "gridDash": [2,2], "gridColor": "#8e8e7e", "gridWidth": 0.7}},
    "y": {"field": "o", "type": "quantitative", "scale": {"domain": [1.24966, 1.27378], "nice": false, "zero": false}, "axis": {"orient": "right", "values": [1.2721,1.2707,1.2693,1.2679,1.2665,1.2651,1.2637,1.2623,1.2609,1.2595,1.2581,1.2567,1.2553,1.2539,1.2525,1.2511,1.2497], "format": ".5f"}},
    "y2": {"field": "c"},
    "color": {"condition": {"test": "datum.c >= datum.o", "value": "#c4c4bc"}, "value": "#000000"}
   }}
 ]
},
{
 "width": 703, "height": 90,
 "title": {"text": "ROC(14) 0.0000 -0.2742 0.0000", "offset": -5, "dx": 2},
 "layer": [
  {"data": {"values": [{"z": 0}]}, "mark": {"type": "rule", "color": "#8d8c7c", "strokeWidth": 1},
   "encoding": {"y": {"field": "z", "type": "quantitative", "scale": {"domain": [-0.445, 0.455], "nice": false, "zero": false}, "axis": {"orient": "right", "values": [0], "format": ".2f"}}}},
  {"data": {"name": "bars"},
   "transform": [{"window": [{"op": "lag", "field": "r", "as": "rp"}], "sort": [{"field": "i"}]}],
   "mark": {"type": "bar", "size": 1.8},
   "encoding": {
    "x": {"field": "i", "type": "quantitative", "scale": {"domain": [-0.5, 282.4], "nice": false, "zero": false, "padding": 0}, "axis": {"values": [22,46,70,94,118,142,166,190,214,238], "labels": false, "ticks": false, "grid": true, "gridDash": [2,2], "gridColor": "#8e8e7e", "gridWidth": 0.7}},
    "y": {"field": "r", "type": "quantitative", "scale": {"domain": [-0.445, 0.455], "nice": false, "zero": false}, "axis": {"orient": "right", "values": [0], "format": ".2f"}},
    "color": {"condition": {"test": "datum.r >= datum.rp", "value": "#29c3f3"}, "value": "#ff00ff"}
   }}
 ]
},
{
 "width": 703, "height": 36,
 "title": {"text": "PowerFuseHistogram_5s -0.0004 0.0000 -0.0004", "offset": -5, "dx": 2},
 "data": {"name": "bars"},
 "transform": [{"window": [{"op": "lag", "field": "hv", "as": "hp"}], "sort": [{"field": "i"}]}],
 "mark": {"type": "bar", "size": 1.8},
 "encoding": {
  "x": {"field": "i", "type": "quantitative", "scale": {"domain": [-0.5, 282.4], "nice": false, "zero": false, "padding": 0}, "axis": {"values": [22,46,70,94,118,142,166,190,214,238], "labels": false, "ticks": false, "grid": true, "gridDash": [2,2], "gridColor": "#8e8e7e", "gridWidth": 0.7}},
  "y": {"field": "hv", "type": "quantitative", "scale": {"domain": [-0.00136, 0.00152], "nice": false, "zero": false}, "axis": {"orient": "right", "values": [0.0012, 0, -0.0012], "labelExpr": "datum.value == 0 ? '0.00' : format(datum.value, '.4f')"}},
  "color": {"condition": {"test": "datum.hv >= datum.hp", "value": "#0000ff"}, "value": "#ff0000"}
 }
},
{
 "width": 703, "height": 79,
 "title": {"text": "PowerFuse_5s -0.0009 -0.0006 0.0000 -0.0002", "offset": -5, "dx": 2},
 "encoding": {
  "x": {"field": "i", "type": "quantitative", "scale": {"domain": [-0.5, 282.4], "nice": false, "zero": false, "padding": 0}, "axis": {"values": [0,8,16,24,32,40,48,56,64,72,80,88,96,104,112,120,128,136,144,152,160,168,176,184,192,200,208,216,224,22,46,70,94,118,142,166,190,214,238], "labelExpr": "datum.value % 8 != 0 ? '' : datum.value == 0 ? '30 Nov 2023' : ['30 Nov','1 Dec','4 Dec','5 Dec','6 Dec','7 Dec','8 Dec','11 Dec','12 Dec','13 Dec'][floor((datum.value + 2) / 24)] + ' ' + ['02:00','10:00','18:00'][((datum.value + 2) % 24 - 2) / 8]", "grid": true, "gridDash": [2,2], "gridColor": "#8e8e7e", "gridWidth": 0.7, "gridOpacity": {"condition": {"test": "datum.value % 8 != 0", "value": 1}, "value": 0}, "tickOpacity": {"condition": {"test": "datum.value % 8 == 0", "value": 1}, "value": 0}, "labelAlign": "left", "labelBaseline": "top", "labelFontSize": 2.9, "labelPadding": 0.8, "tickSize": 1.5}}
 },
 "layer": [
  {"data": {"name": "lines"}, "mark": {"type": "line", "color": "#a9d9e8", "strokeWidth": 0.9, "interpolate": "monotone"},
   "encoding": {"y": {"field": "ua", "type": "quantitative", "scale": {"domain": [-0.00205, 0.0019], "nice": false, "zero": false}, "axis": {"orient": "right", "values": [0.0018, 0, -0.002], "labelExpr": "datum.value == 0 ? '0.00' : datum.value < 0 ? '-0.002' : '0.0018'"}}}},
  {"data": {"name": "lines"}, "mark": {"type": "line", "color": "#a9d9e8", "strokeWidth": 0.9, "interpolate": "monotone"},
   "encoding": {"y": {"field": "lb", "type": "quantitative", "scale": {"domain": [-0.00205, 0.0019], "nice": false, "zero": false}, "axis": {"orient": "right", "values": [0.0018, 0, -0.002], "labelExpr": "datum.value == 0 ? '0.00' : datum.value < 0 ? '-0.002' : '0.0018'"}}}},
  {"data": {"name": "lines"}, "mark": {"type": "line", "color": "#f08470", "strokeWidth": 0.9, "strokeDash": [2,2], "interpolate": "monotone"},
   "encoding": {"y": {"field": "rd", "type": "quantitative", "scale": {"domain": [-0.00205, 0.0019], "nice": false, "zero": false}, "axis": {"orient": "right", "values": [0.0018, 0, -0.002], "labelExpr": "datum.value == 0 ? '0.00' : datum.value < 0 ? '-0.002' : '0.0018'"}}}},
  {"data": {"name": "lines"}, "mark": {"type": "line", "color": "#7c78d0", "strokeWidth": 0.9, "strokeDash": [2,2], "interpolate": "monotone"},
   "encoding": {"y": {"field": "pd", "type": "quantitative", "scale": {"domain": [-0.00205, 0.0019], "nice": false, "zero": false}, "axis": {"orient": "right", "values": [0.0018, 0, -0.002], "labelExpr": "datum.value == 0 ? '0.00' : datum.value < 0 ? '-0.002' : '0.0018'"}}}},
  {"data": {"name": "bars"}, "mark": {"type": "circle", "size": 13, "opacity": 1},
   "encoding": {
    "y": {"field": "v", "type": "quantitative", "scale": {"domain": [-0.00205, 0.0019], "nice": false, "zero": false}, "axis": {"orient": "right", "values": [0.0018, 0, -0.002], "labelExpr": "datum.value == 0 ? '0.00' : datum.value < 0 ? '-0.002' : '0.0018'"}},
    "color": {"field": "s", "type": "nominal", "scale": {"domain": ["b","r","y"], "range": ["#0000ff","#ff0000","#ffff00"]}, "legend": null}
   }}
 ]
}
]
}
